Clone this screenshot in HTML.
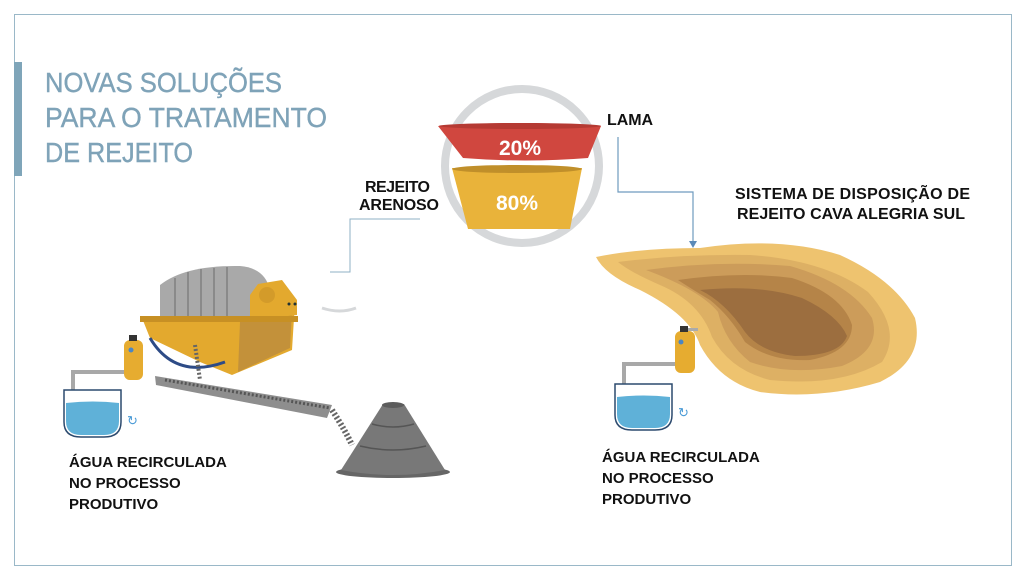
<!DOCTYPE html>
<html><head><meta charset="utf-8"><style>
html,body{margin:0;padding:0;background:#fff;width:1024px;height:576px;overflow:hidden}
svg{display:block}
text{font-family:"Liberation Sans",sans-serif}
</style></head><body>
<svg width="1024" height="576" viewBox="0 0 1024 576">
<rect x="14.5" y="14.5" width="997" height="551" fill="none" stroke="#9ab8c8" stroke-width="1"/>
<rect x="14" y="62" width="8" height="114" fill="#7fa5b9"/>
<g fill="#7fa3b8" stroke="#7fa3b8" stroke-width="0.4" font-size="28">
<text x="45" y="92" textLength="237" lengthAdjust="spacingAndGlyphs">NOVAS SOLUÇÕES</text>
<text x="45" y="127" textLength="282" lengthAdjust="spacingAndGlyphs">PARA O TRATAMENTO</text>
<text x="45" y="162" textLength="148" lengthAdjust="spacingAndGlyphs">DE REJEITO</text>
</g>
<circle cx="522" cy="166" r="77" fill="none" stroke="#d6d8da" stroke-width="8"/>
<path d="M438 126 Q520 120 601 126 L588 158 Q525 163 463 158 Z" fill="#d0473f"/>
<ellipse cx="520" cy="126" rx="81" ry="3" fill="#b53a33"/>
<path d="M452 168 L582 168 L570 229 L468 229 Z" fill="#e9b33a"/>
<ellipse cx="517" cy="169" rx="65" ry="4" fill="#c08f2a"/>
<text x="520" y="155" fill="#fff" font-size="21" font-weight="bold" text-anchor="middle">20%</text>
<text x="517" y="210" fill="#fff" font-size="21" font-weight="bold" text-anchor="middle">80%</text>
<g font-size="16" font-weight="bold" fill="#111" lengthAdjust="spacingAndGlyphs">
<text x="607" y="125" textLength="46">LAMA</text>
<text x="365" y="192" textLength="65">REJEITO</text>
<text x="359" y="210" textLength="80">ARENOSO</text>
<text x="735" y="199" textLength="235">SISTEMA DE DISPOSIÇÃO DE</text>
<text x="737" y="219" textLength="228">REJEITO CAVA ALEGRIA SUL</text>
</g>
<g font-size="15" font-weight="bold" fill="#111">
<text x="69" y="467">ÁGUA RECIRCULADA</text>
<text x="69" y="488">NO PROCESSO</text>
<text x="69" y="509">PRODUTIVO</text>
<text x="602" y="462">ÁGUA RECIRCULADA</text>
<text x="602" y="483">NO PROCESSO</text>
<text x="602" y="504">PRODUTIVO</text>
</g>
<polyline points="420,219 350,219 350,272 330,272" fill="none" stroke="#8fb0c6" stroke-width="1"/>
<polyline points="618,137 618,192 693,192 693,243" fill="none" stroke="#6f9bbf" stroke-width="1.2"/>
<path d="M689 241 L697 241 L693 248 Z" fill="#5b8ab8"/>
<path d="M322 308 Q340 314 356 308" fill="none" stroke="#d6d8da" stroke-width="3"/>
<path d="M596 257 Q640 248 700 248 Q780 236 840 255 Q895 280 915 318 Q925 360 880 382 Q820 400 760 392 Q720 382 700 345 Q690 315 640 290 Q605 275 596 257 Z" fill="#eec36f"/>
<path d="M618 262 Q680 254 750 255 Q825 260 868 292 Q903 330 882 362 Q840 387 770 380 Q730 370 712 337 Q700 302 660 285 Q630 272 618 262 Z" fill="#ddb064"/>
<path d="M646 270 Q720 260 790 266 Q850 283 872 318 Q882 350 842 366 Q790 376 750 362 Q725 342 718 312 Q700 290 646 270 Z" fill="#cc9c5a"/>
<path d="M678 280 Q740 271 792 278 Q842 294 852 325 Q852 352 810 360 Q770 362 745 342 Q730 316 710 300 Q690 288 678 280 Z" fill="#b58448"/>
<path d="M700 290 Q760 284 802 298 Q838 315 847 336 Q840 356 795 356 Q760 352 745 332 Q725 302 700 290 Z" fill="#9c6e3f"/>
<rect x="675" y="331" width="20" height="42" rx="6" fill="#e6ac30"/>
<rect x="680" y="326" width="8" height="6" fill="#333"/>
<rect x="688" y="328" width="10" height="3" fill="#aaa"/>
<circle cx="681" cy="342" r="2.5" fill="#4a86c4"/>
<polyline points="675,364 624,364 624,384" fill="none" stroke="#a8a8a8" stroke-width="4"/>
<path d="M615 384 L672 384 L672 415 Q672 430 655 430 L632 430 Q615 430 615 415 Z" fill="#fff" stroke="#2c4a6e" stroke-width="1.5"/>
<path d="M617 397 Q644 394 670 397 L670 414 Q670 428 655 428 L632 428 Q617 428 617 414 Z" fill="#5fb1d8"/>
<text x="678" y="417" fill="#4a9ad6" font-size="13">↻</text>
<path d="M160 285 Q185 265 240 266 Q265 268 270 290 L270 330 L160 330 Z" fill="#a9a9a9"/>
<g stroke="#8a8a8a" stroke-width="2"><line x1="175" y1="278" x2="175" y2="318"/><line x1="188" y1="272" x2="188" y2="318"/><line x1="201" y1="269" x2="201" y2="318"/><line x1="214" y1="268" x2="214" y2="318"/><line x1="227" y1="267" x2="227" y2="318"/></g>
<path d="M142 318 L250 318 L295 302 L292 350 L232 375 L200 362 L150 338 Z" fill="#e3a92e"/>
<path d="M240 322 L292 310 L290 348 L238 372 Z" fill="#c3913a"/>
<path d="M250 295 L258 284 L282 280 L297 300 L297 315 L250 320 Z" fill="#e3a92e"/>
<circle cx="267" cy="295" r="8" fill="#d39b2a"/>
<rect x="140" y="316" width="158" height="6" fill="#c79024"/>
<path d="M150 338 Q175 380 225 362" fill="none" stroke="#2d4b86" stroke-width="3"/>
<circle cx="289" cy="304" r="1.5" fill="#233"/><circle cx="295" cy="304" r="1.5" fill="#233"/>
<rect x="124" y="340" width="19" height="40" rx="6" fill="#e6ac30"/>
<rect x="129" y="335" width="8" height="6" fill="#333"/>
<circle cx="131" cy="350" r="2.5" fill="#4a86c4"/>
<polyline points="124,372 73,372 73,390" fill="none" stroke="#a8a8a8" stroke-width="4"/>
<path d="M64 390 L121 390 L121 422 Q121 437 104 437 L81 437 Q64 437 64 422 Z" fill="#fff" stroke="#2c4a6e" stroke-width="1.5"/>
<path d="M66 403 Q93 400 119 403 L119 421 Q119 435 104 435 L81 435 Q66 435 66 421 Z" fill="#5fb1d8"/>
<text x="127" y="425" fill="#4a9ad6" font-size="13">↻</text>
<path d="M155 376 L332 405 L327 418 L156 385 Z" fill="#8e8e8e"/>
<path d="M165 380 L330 408" stroke="#555" stroke-width="3" stroke-dasharray="2 2"/>
<path d="M195 345 L200 380" stroke="#666" stroke-width="4" stroke-dasharray="2 2"/>
<path d="M332 410 Q345 430 352 445" stroke="#666" stroke-width="6" stroke-dasharray="2 2" fill="none"/>
<ellipse cx="393" cy="472" rx="57" ry="6" fill="#666"/>
<path d="M383 404 L404 404 L445 470 Q393 480 341 470 Z" fill="#787878"/>
<ellipse cx="393" cy="405" rx="11" ry="3" fill="#5c5c5c"/>
<path d="M372 424 Q393 430 414 424" stroke="#555" stroke-width="1.5" fill="none"/>
<path d="M360 446 Q393 454 426 446" stroke="#555" stroke-width="1.5" fill="none"/>
</svg>
</body></html>
